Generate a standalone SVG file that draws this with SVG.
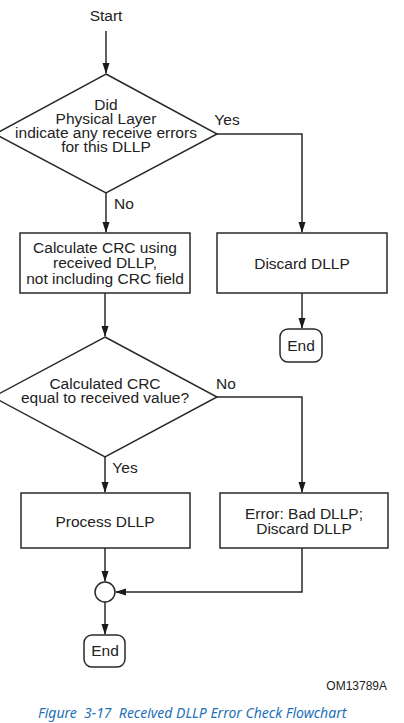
<svg xmlns="http://www.w3.org/2000/svg" width="404" height="723" viewBox="0 0 404 723">
<style>
.s{fill:#fff;stroke:#2a2a2a;stroke-width:1.5}
.t{font-family:"Liberation Sans",Arial,sans-serif;font-size:15.5px;fill:#222;text-anchor:middle}
.c{fill:none;stroke:#2a2a2a;stroke-width:1.5}
</style>
<defs>
<marker id="ah" markerUnits="userSpaceOnUse" markerWidth="11" markerHeight="8" refX="10" refY="3.5" orient="auto">
<path d="M0,0 L11,3.5 L0,7 z" fill="#1a1a1a"/>
</marker>
</defs>
<rect width="404" height="723" fill="#fff"/>
<g id="start"><text class="t" x="106" y="21">Start</text></g>
<g id="d1">
<polygon class="s" points="106,74 217,134 106,193 -5,134"/>
<text class="t" x="106" y="110">Did</text>
<text class="t" x="106" y="124">Physical Layer</text>
<text class="t" x="106" y="138">indicate any receive errors</text>
<text class="t" x="106" y="152">for this DLLP</text>
</g>
<g id="calc">
<rect class="s" x="20" y="233" width="170" height="60"/>
<text class="t" x="105" y="253">Calculate CRC using</text>
<text class="t" x="105" y="268">received DLLP,</text>
<text class="t" x="105" y="284">not including CRC field</text>
</g>
<g id="discard">
<rect class="s" x="217" y="233" width="170" height="60"/>
<text class="t" x="302" y="269">Discard DLLP</text>
</g>
<g id="end1">
<rect class="s" x="280" y="329" width="42" height="33" rx="8"/>
<text class="t" x="301" y="351">End</text>
</g>
<g id="d2">
<polygon class="s" points="105,337 217,397 105,457 -7,397"/>
<text class="t" x="105" y="389">Calculated CRC</text>
<text class="t" x="105" y="403">equal to received value?</text>
</g>
<g id="process">
<rect class="s" x="21" y="493" width="169" height="55"/>
<text class="t" x="105" y="527">Process DLLP</text>
</g>
<g id="error">
<rect class="s" x="220" y="493" width="168" height="55"/>
<text class="t" x="304" y="519">Error: Bad DLLP;</text>
<text class="t" x="304" y="534">Discard DLLP</text>
</g>
<g id="merge"><circle class="s" cx="105" cy="592" r="10"/></g>
<g id="end2">
<rect class="s" x="84" y="635" width="41" height="32" rx="8"/>
<text class="t" x="105" y="656">End</text>
</g>
<g id="connectors">
<line class="c" x1="106" y1="31" x2="106" y2="73" marker-end="url(#ah)"/>
<polyline class="c" points="217,134 302,134 302,232" marker-end="url(#ah)"/>
<line class="c" x1="106" y1="193" x2="106" y2="232" marker-end="url(#ah)"/>
<line class="c" x1="105" y1="293" x2="105" y2="336" marker-end="url(#ah)"/>
<line class="c" x1="302" y1="293" x2="302" y2="328" marker-end="url(#ah)"/>
<polyline class="c" points="217,397 302,397 302,492" marker-end="url(#ah)"/>
<line class="c" x1="105" y1="457" x2="105" y2="492" marker-end="url(#ah)"/>
<line class="c" x1="105" y1="548" x2="105" y2="581" marker-end="url(#ah)"/>
<polyline class="c" points="302,548 302,592 116,592" marker-end="url(#ah)"/>
<line class="c" x1="105" y1="602" x2="105" y2="634" marker-end="url(#ah)"/>
</g>
<g id="labels">
<text class="t" x="227" y="125">Yes</text>
<text class="t" x="124" y="209">No</text>
<text class="t" x="226" y="389">No</text>
<text class="t" x="125" y="473">Yes</text>
</g>
<text x="387" y="690" font-family="'Liberation Sans',Arial,sans-serif" font-size="12" fill="#222" text-anchor="end">OM13789A</text>
<text x="38" y="718" font-family="'Noto Sans',sans-serif" font-size="14" font-style="italic" fill="#2470b8" xml:space="preserve">Figure  3-17  Received DLLP Error Check Flowchart</text>
</svg>
